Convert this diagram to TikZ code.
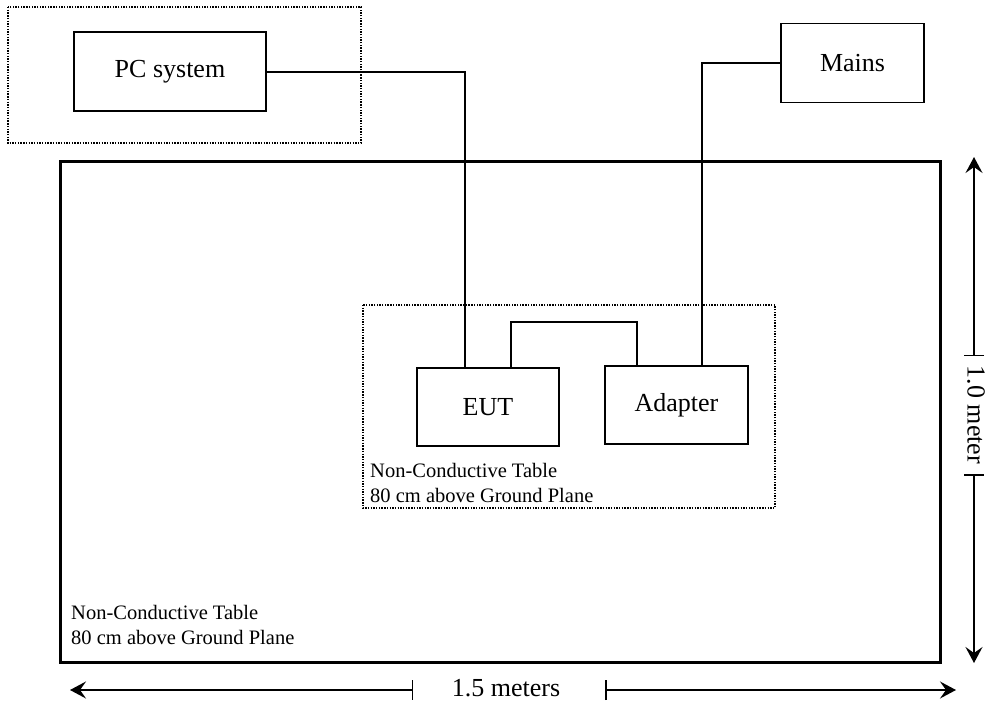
\documentclass[tikz,border=0pt]{standalone}
\usepackage{fontspec}
\setmainfont{Liberation Serif}
\usetikzlibrary{arrows.meta}
\tikzset{
  box/.style={draw, line width=1.8pt, inner sep=0pt, font=\fontsize{26}{30}\selectfont},
  dotbox/.style={draw, line width=1.6pt, dash pattern=on 1.4pt off 1.3pt},
  tablebox/.style={draw, line width=3pt},
  wire/.style={line width=2pt},
  lbl/.style={font=\fontsize{20.5}{24}\selectfont, inner sep=0pt, anchor=base west},
  dimlbl/.style={font=\fontsize{26}{30}\selectfont, inner sep=0pt},
  dimline/.style={line width=1.5pt},
  tipA/.tip={Stealth[length=16pt, width=17pt, inset=6pt]},
  tipB/.tip={Bar[width=20pt, line width=1.5pt]}
}
\begin{document}
\begin{tikzpicture}[x=1pt, y=-1pt]
\useasboundingbox (0,0) rectangle (987,704);
% outer frames
\draw[dotbox] (8,7) rectangle (361,143);
\draw[tablebox] (60,161) rectangle (940,662);
\draw[dotbox] (363,305) rectangle (775,508);
% boxes
\node[box, minimum width=192pt, minimum height=79pt] (pc) at (170,71.5) {PC system};
\node[box, minimum width=143pt, minimum height=79pt] (mains) at (852.5,63) {Mains};
\node[box, minimum width=142pt, minimum height=78pt] (eut) at (488,407) {EUT};
\node[box, minimum width=143pt, minimum height=78pt] (adapter) at (676.5,405) {Adapter};
% wires
\coordinate (pcx) at (465,0);
\coordinate (mnx) at (702,0);
\coordinate (ea1) at (511,322);
\coordinate (ea2) at (637,322);
\draw[wire] (pc.east) -| (eut.north -| pcx);
\draw[wire] (mains.west) -| (adapter.north -| mnx);
\draw[wire] (eut.north -| ea1) -- (ea1) -- (ea2) -- (adapter.north -| ea2);
% labels
\node[lbl] (t1a) at (370,477) {Non-Conductive Table};
\node[lbl] (t1b) at (370,502) {80 cm above Ground Plane};
\node[lbl] (t2a) at (71,619) {Non-Conductive Table};
\node[lbl] (t2b) at (71,644) {80 cm above Ground Plane};
% horizontal dimension
\coordinate (hl) at (70,690);
\coordinate (ht1) at (413,690);
\coordinate (ht2) at (605,690);
\coordinate (hr) at (956,690);
\node[dimlbl] (hlab) at (506,688) {1.5 meters};
\draw[dimline, tipA-tipB] (hl) -- (ht1);
\draw[dimline, tipB-tipA] (ht2) -- (hr);
% vertical dimension
\coordinate (vt) at (974,157);
\coordinate (vt1) at (974,356);
\coordinate (vt2) at (974,474);
\coordinate (vb) at (974,663);
\node[dimlbl, rotate=-90] (vlab) at (976,415) {1.0 meter};
\draw[dimline, tipA-tipB] (vt) -- (vt1);
\draw[dimline, tipB-tipA] (vt2) -- (vb);
\end{tikzpicture}
\end{document}
